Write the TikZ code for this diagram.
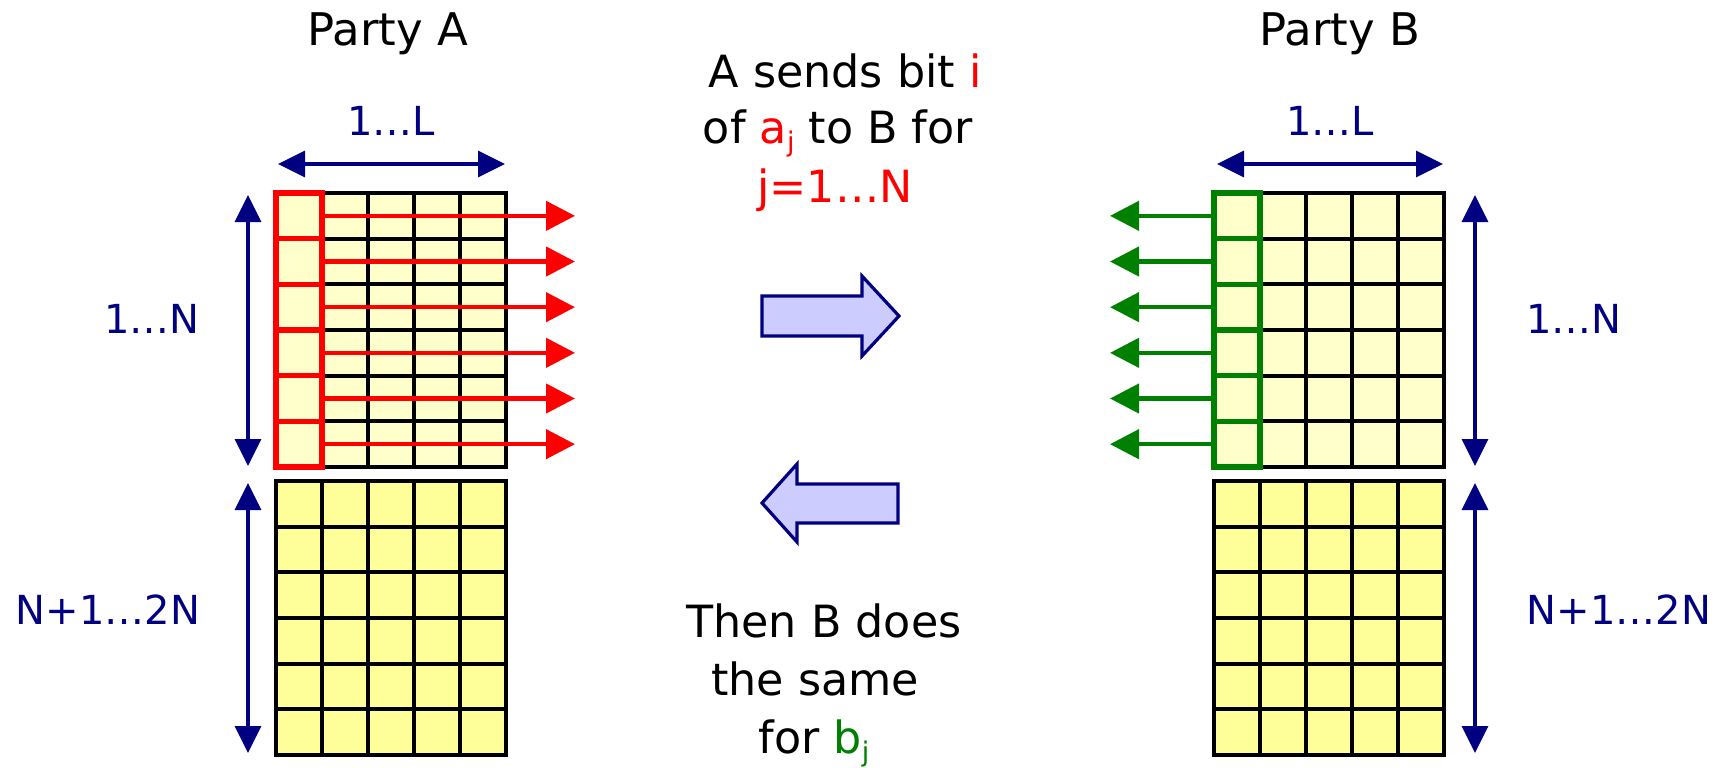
\documentclass[tikz,border=0pt]{standalone}
\usepackage{fontspec}
\setmainfont{DejaVu Sans}
\usetikzlibrary{arrows.meta}
\definecolor{navy}{HTML}{000080}
\definecolor{lightyel}{HTML}{FFFFCC}
\definecolor{yel}{HTML}{FFFF99}
\definecolor{blockfill}{HTML}{CCCCFF}
\definecolor{dgreen}{HTML}{008000}
\newcommand\mysub[1]{\raisebox{-0.35ex}{\fontsize{13.5}{14}\selectfont #1}}
\begin{document}
\begin{tikzpicture}[x=0.5pt,y=-0.5pt,
  cell/.style={draw=black, line width=1.9pt, minimum width=23pt, minimum height=22.83pt, inner sep=0pt, outer sep=0pt},
  redcell/.style={cell, draw=red, line width=2.8pt},
  greencell/.style={cell, draw=dgreen, line width=2.8pt},
  redarrow/.style={draw=red, line width=2.2pt, -{Triangle[length=14.5pt,width=14.5pt]}},
  greenarrow/.style={draw=dgreen, line width=2.2pt, -{Triangle[length=14.5pt,width=14.5pt]}},
  dimarrow/.style={draw=navy, line width=1.6pt, {Triangle[length=13.5pt,width=13pt]}-{Triangle[length=13.5pt,width=13pt]}},
  block/.style={draw=navy, fill=blockfill, line width=1.6pt, line join=miter},
  party/.style={anchor=base, font=\fontsize{22.5}{27}\selectfont, inner sep=0pt},
  dimlabel/.style={anchor=base, text=navy, font=\fontsize{20}{25}\selectfont, inner sep=0pt},
  maintext/.style={anchor=base, font=\fontsize{22.2}{27}\selectfont, inner sep=0pt}]
\useasboundingbox (0,0) rectangle (1730,767);
% grids
\foreach \r in {1,...,6} {
  \foreach \c in {1,...,5} {
    \node[cell, fill=lightyel] (At\r\c) at ({276+46*(\c-0.5)}, {193+45.667*(\r-0.5)}) {};
    \node[cell, fill=yel] (Ab\r\c) at ({276+46*(\c-0.5)}, {481+45.667*(\r-0.5)}) {};
    \node[cell, fill=lightyel] (Bt\r\c) at ({1214+46*(\c-0.5)}, {193+45.667*(\r-0.5)}) {};
    \node[cell, fill=yel] (Bb\r\c) at ({1214+46*(\c-0.5)}, {481+45.667*(\r-0.5)}) {};
  }
}
% red column and arrows
\foreach \r in {1,...,6} {
  \node[redcell] (Ar\r) at (At\r1) {};
}
\foreach \r in {1,...,6} {
  \coordinate (AE\r) at (575, {193+45.667*(\r-0.5)});
  \draw[redarrow] (Ar\r.east) -- (AE\r);
}
% green column and arrows
\foreach \r in {1,...,6} {
  \node[greencell] (Bg\r) at (Bt\r1) {};
  \coordinate (BE\r) at (1110, {193+45.667*(\r-0.5)});
  \draw[greenarrow] (Bg\r.west) -- (BE\r);
}
% dimension arrows
\coordinate (AL1) at (278,164); \coordinate (AL2) at (505,164);
\coordinate (BL1) at (1217,164); \coordinate (BL2) at (1443,164);
\coordinate (AN1) at (248,195); \coordinate (AN2) at (248,466);
\coordinate (AM1) at (248,483); \coordinate (AM2) at (248,753);
\coordinate (BN1) at (1475,195); \coordinate (BN2) at (1475,466);
\coordinate (BM1) at (1475,483); \coordinate (BM2) at (1475,753);
\draw[dimarrow] (AL1) -- (AL2);
\draw[dimarrow] (BL1) -- (BL2);
\draw[dimarrow] (AN1) -- (AN2);
\draw[dimarrow] (AM1) -- (AM2);
\draw[dimarrow] (BN1) -- (BN2);
\draw[dimarrow] (BM1) -- (BM2);
% block arrows
\draw[block] (762,296) -- (862,296) -- (862,276) -- (899,316) -- (862,356) -- (862,336) -- (762,336) -- cycle;
\draw[block] (898,484) -- (797,484) -- (797,464) -- (762,503) -- (797,542) -- (797,523) -- (898,523) -- cycle;
% labels
\node[party] (pa) at (388,45) {Party A};
\node[party] (pb) at (1340,45) {Party B};
\node[dimlabel] (la) at (391,135) {1…L};
\node[dimlabel] (lb) at (1330,135) {1…L};
\node[dimlabel] (na) at (152,333) {1…N};
\node[dimlabel] (nb) at (1574,333) {1…N};
\node[dimlabel] (ma) at (108,624) {N+1…2N};
\node[dimlabel] (mb) at (1619,624) {N+1…2N};
% central text
\node[maintext] (t1) at (845,87) {A sends bit \textcolor{red}{i}};
\node[maintext] (t2) at (838,143) {of \textcolor{red}{a\mysub{j}} to B for};
\node[maintext] (t3) at (835,202) {\textcolor{red}{j=1…N}};
\node[maintext] (t4) at (824,637) {Then B does};
\node[maintext] (t5) at (815,695) {the same};
\node[maintext] (t6) at (814,753) {for \textcolor{dgreen}{b\mysub{j}}};
\end{tikzpicture}
\end{document}
